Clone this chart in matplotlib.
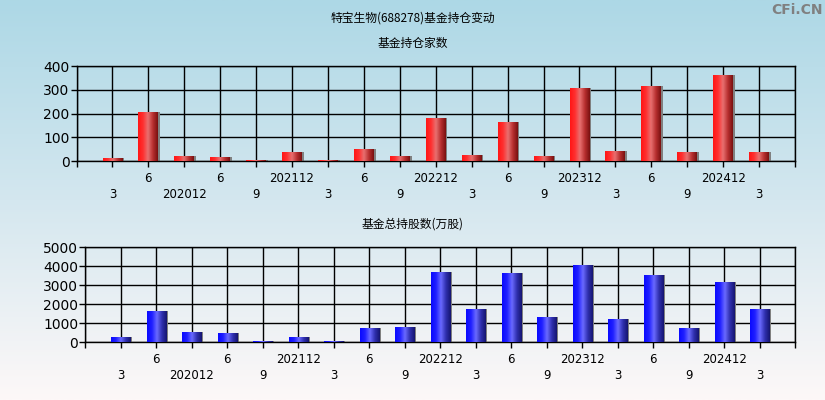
import numpy as np
import matplotlib
matplotlib.use("Agg")
import matplotlib.pyplot as plt
from matplotlib.colors import LinearSegmentedColormap

plt.rcParams['font.family'] = ['Noto Sans CJK SC', 'DejaVu Sans']

# tick labels, upper row / lower row alternate
periods = ["3", "6", "202012", "6", "9", "202112", "3", "6", "9", "202212",
           "3", "6", "9", "202312", "3", "6", "9", "202412", "3"]
fund_count = [14, 208, 22, 18, 6, 39, 5, 52, 22, 182,
              27, 166, 22, 309, 43, 317, 39, 363, 39]
fund_shares = [280, 1650, 544, 491, 60, 280, 60, 754, 807, 3702,
               1754, 3649, 1333, 4070, 1228, 3544, 754, 3175, 1754]

W, H = 825, 400
fig = plt.figure(figsize=(W / 100, H / 100), dpi=100)

# background gradient
bg = fig.add_axes([0, 0, 1, 1], zorder=-10)
bg_cmap = LinearSegmentedColormap.from_list("bg", ["#add8e6", "#d4e7ef", "#fdf8f8"])
bg.imshow(np.linspace(0, 1, 256).reshape(-1, 1), aspect="auto", cmap=bg_cmap,
          extent=[0, 1, 0, 1])
bg.set_axis_off()

red_cmap = LinearSegmentedColormap.from_list(
    "r", ["#ff1515", "#ff3030", "#e87070", "#b83030", "#7a1010"])
blue_cmap = LinearSegmentedColormap.from_list(
    "b", ["#0a0aff", "#2020ff", "#6a6aff", "#3030b0", "#151570"])
grad = np.linspace(0, 1, 64).reshape(1, -1)


def panel(rect, values, ymax, ystep, cmap):
    ax = fig.add_axes(rect)
    ax.patch.set_alpha(0)
    x = np.arange(1, len(values) + 1)
    ax.bar(x + 0.05, values, width=0.55, color="#808080", zorder=2)
    bars = ax.bar(x, values, width=0.55, color="none", zorder=3)
    for b in bars:
        x0, y0 = b.get_x(), b.get_y()
        im = ax.imshow(grad, cmap=cmap, aspect="auto", zorder=3,
                       extent=[x0, x0 + b.get_width(), y0, y0 + b.get_height()])
        im.set_clip_path(b)
    ax.set_xlim(0, len(values) + 1)
    ax.set_ylim(0, ymax)
    ax.set_xticks(np.arange(0, len(values) + 2))
    labels = [""]
    for i, p in enumerate(periods):
        labels.append(p if i % 2 == 1 else "\n" + p)
    labels.append("")
    ax.set_xticklabels(labels, fontsize=8.5, linespacing=1.28,
                       family=['DejaVu Sans'])
    ax.set_yticks(np.arange(0, ymax + 1, ystep))
    ax.tick_params(axis="y", labelsize=10, length=4, width=1, pad=1)
    ax.tick_params(axis="x", length=4, width=1, pad=4)
    ax.grid(True, color="black", linewidth=1)
    ax.set_axisbelow(True)
    for s in ax.spines.values():
        s.set_color("black")
        s.set_linewidth(1)
    for lab in ax.get_yticklabels():
        lab.set_family(['DejaVu Sans'])
    return ax


panel([76.5 / W, 1 - 161 / H, 718.5 / W, 95 / H], fund_count, 400, 100, red_cmap)
panel([85.3 / W, 1 - 342.3 / H, 710 / W, 95 / H], fund_shares, 5000, 1000, blue_cmap)

fig.text(0.5, 1 - 18 / H, "特宝生物(688278)基金持仓变动", ha="center", va="center", fontsize=8.5)
fig.text(0.5, 1 - 43 / H, "基金持仓家数", ha="center", va="center", fontsize=8.5)
fig.text(0.5, 1 - 224 / H, "基金总持股数(万股)", ha="center", va="center", fontsize=8.5)
fig.text(0.997, 1 - 10 / H, "CFi.CN", ha="right", va="center", fontsize=10,
         color="#808080", fontweight="bold", family=['DejaVu Sans'])

fig.savefig("out.png", dpi=100)
